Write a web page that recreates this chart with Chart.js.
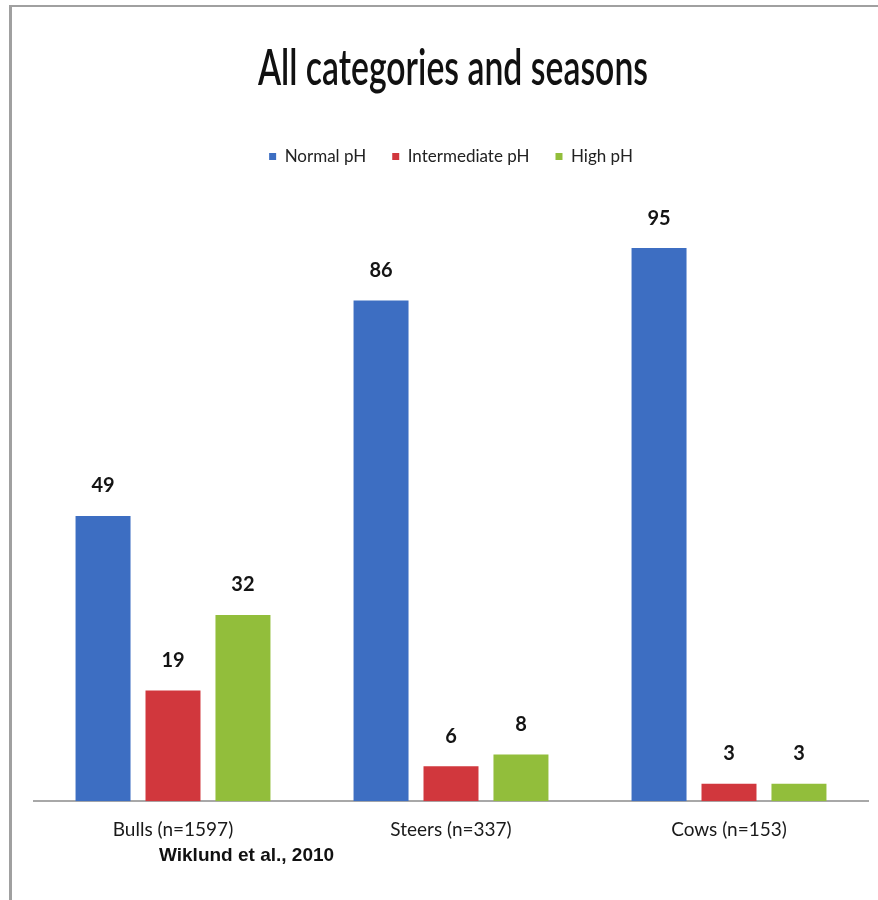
<!DOCTYPE html>
<html>
<head>
<meta charset="utf-8">
<script src="https://cdn.jsdelivr.net/npm/chart.js@4.4.1/dist/chart.umd.min.js"></script>
<style>
  html, body { margin: 0; padding: 0; background: #fff; }
  #wrap { position: relative; width: 878px; height: 900px; overflow: hidden; }
  #frame { position: absolute; left: 9px; top: 5px; right: 0; bottom: 0;
           border-left: 3px solid #a0a0a0; border-top: 2px solid #a0a0a0; }
  #chart { position: absolute; left: 0; top: 0; }
  /* titre resserré comme dans l'original */
  #title { position: absolute; left: 453px; top: 36px; line-height: 50px; white-space: nowrap;
           font: 600 50px Lato, sans-serif; color: #111;
           transform: translateX(-50%) scaleX(0.675); }
  #source { position: absolute; left: 159px; top: 844px;
            font: bold 19px "Liberation Sans", Arial, sans-serif; color: #111; }
</style>
</head>
<body>
<div id="wrap">
  <div id="frame"></div>
  <canvas id="chart" width="878" height="900"></canvas>
  <div id="title">All categories and seasons</div>
  <div id="source">Wiklund et al., 2010</div>
</div>
<script>
// ── Données ─────────────────────────────────────────────────────────
const categories   = ["Bulls (n=1597)", "Steers (n=337)", "Cows (n=153)"];
const seriesNames  = ["Normal pH", "Intermediate pH", "High pH"];
const normalPH       = [49, 86, 95];
const intermediatePH = [19, 6, 3];
const highPH         = [32, 8, 3];
const seriesColors = ["#3d6ec2", "#d1373d", "#92be3b"];

const FONT = "Lato, sans-serif";

// Espace supplémentaire sous la légende
const legendGap = {
  id: "legendGap",
  beforeInit(chart) {
    const fit = chart.legend.fit;
    chart.legend.fit = function () {
      fit.call(this);
      this.height += 44;
    };
  },
};

// Étiquettes de valeur au-dessus des barres
const valueLabels = {
  id: "valueLabels",
  afterDatasetsDraw(chart) {
    const ctx = chart.ctx;
    ctx.save();
    ctx.font = "bold 20px " + FONT;
    ctx.fillStyle = "#141414";
    ctx.textAlign = "center";
    ctx.textBaseline = "middle";
    chart.data.datasets.forEach((ds, i) => {
      chart.getDatasetMeta(i).data.forEach((bar, j) => {
        ctx.fillText(String(ds.data[j]), bar.x, bar.y - 30);
      });
    });
    ctx.restore();
  },
};

new Chart(document.getElementById("chart"), {
  type: "bar",
  data: {
    labels: categories,
    datasets: [normalPH, intermediatePH, highPH].map((d, i) => ({
      label: seriesNames[i],
      data: d,
      backgroundColor: seriesColors[i],
      borderWidth: 0,
      categoryPercentage: 0.755,
      barPercentage: 0.786,
    })),
  },
  options: {
    responsive: false,
    animation: false,
    layout: { padding: { left: 34, right: 10, top: 122, bottom: 50 } },
    plugins: {
      title: { display: false },
      legend: {
        position: "top",
        labels: {
          color: "#222",
          boxWidth: 7,
          boxHeight: 7,
          padding: 26,
          font: { family: FONT, size: 17 },
        },
      },
      tooltip: { enabled: false },
    },
    scales: {
      y: { display: false, min: 0, max: 100 },
      x: {
        grid: { display: false },
        border: { display: true, color: "#a8a8a8", width: 2 },
        ticks: { color: "#1a1a1a", padding: 9, font: { family: FONT, size: 19 } },
      },
    },
  },
  plugins: [legendGap, valueLabels],
});
</script>
</body>
</html>
